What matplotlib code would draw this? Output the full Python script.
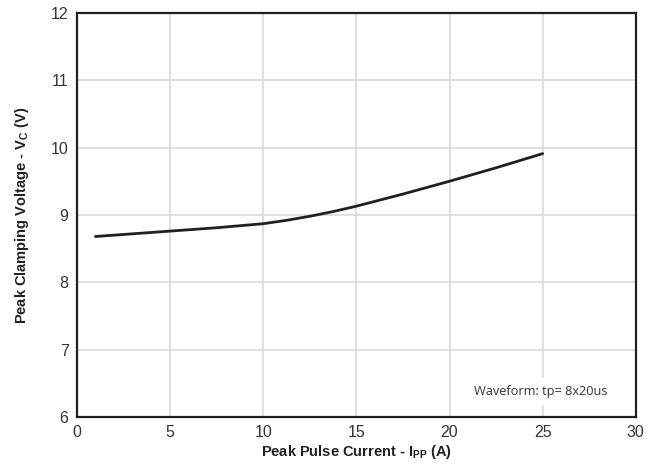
import matplotlib
matplotlib.use("Agg")
import matplotlib.pyplot as plt
import numpy as np

plt.rcParams['font.family'] = ['Liberation Sans', 'DejaVu Sans']

# Peak clamping voltage vs peak pulse current
current = [1, 2.5, 5, 7.5, 10, 11.25, 12.5, 13.75, 15, 17.5, 20, 22.5, 25]
voltage = [8.68, 8.71, 8.76, 8.81, 8.87, 8.92, 8.98, 9.05, 9.13, 9.31, 9.50, 9.70, 9.91]

x_ticks = [0, 5, 10, 15, 20, 25, 30]
y_ticks = [6, 7, 8, 9, 10, 11, 12]

fig = plt.figure(figsize=(6.63, 4.75), dpi=100)
ax = fig.add_axes([0.116, 0.122, 0.843, 0.851])

ax.plot(current, voltage, color='#231f20', lw=2.0, solid_capstyle='round',
        solid_joinstyle='round', zorder=3)

ax.set_xlim(0, 30)
ax.set_ylim(6, 12)
ax.set_xticks(x_ticks)
ax.set_yticks(y_ticks)
ax.grid(True, color='#d9d9d9', lw=1.2)
ax.set_axisbelow(True)
ax.tick_params(length=0, labelsize=11.5, pad=6, colors='#333333')
for s in ax.spines.values():
    s.set_linewidth(1.6)
    s.set_color('#231f20')

ax.set_xlabel(r'Peak Pulse Current - I$_{\mathregular{PP}}$ (A)', fontsize=10.5,
              fontweight='bold', labelpad=2, color='#231f20')
ax.set_ylabel(r'Peak Clamping Voltage - V$_{\mathregular{C}}$ (V)', fontsize=10.5,
              fontweight='bold', labelpad=14, color='#231f20')

ax.text(24.9, 6.38, 'Waveform: tp= 8x20us', family=['Open Sans', 'DejaVu Sans'],
        fontsize=9.2, ha='center', va='center', color='#333333',
        bbox=dict(facecolor='white', edgecolor='none', pad=5), zorder=2)

fig.savefig('out.png', dpi=100)
